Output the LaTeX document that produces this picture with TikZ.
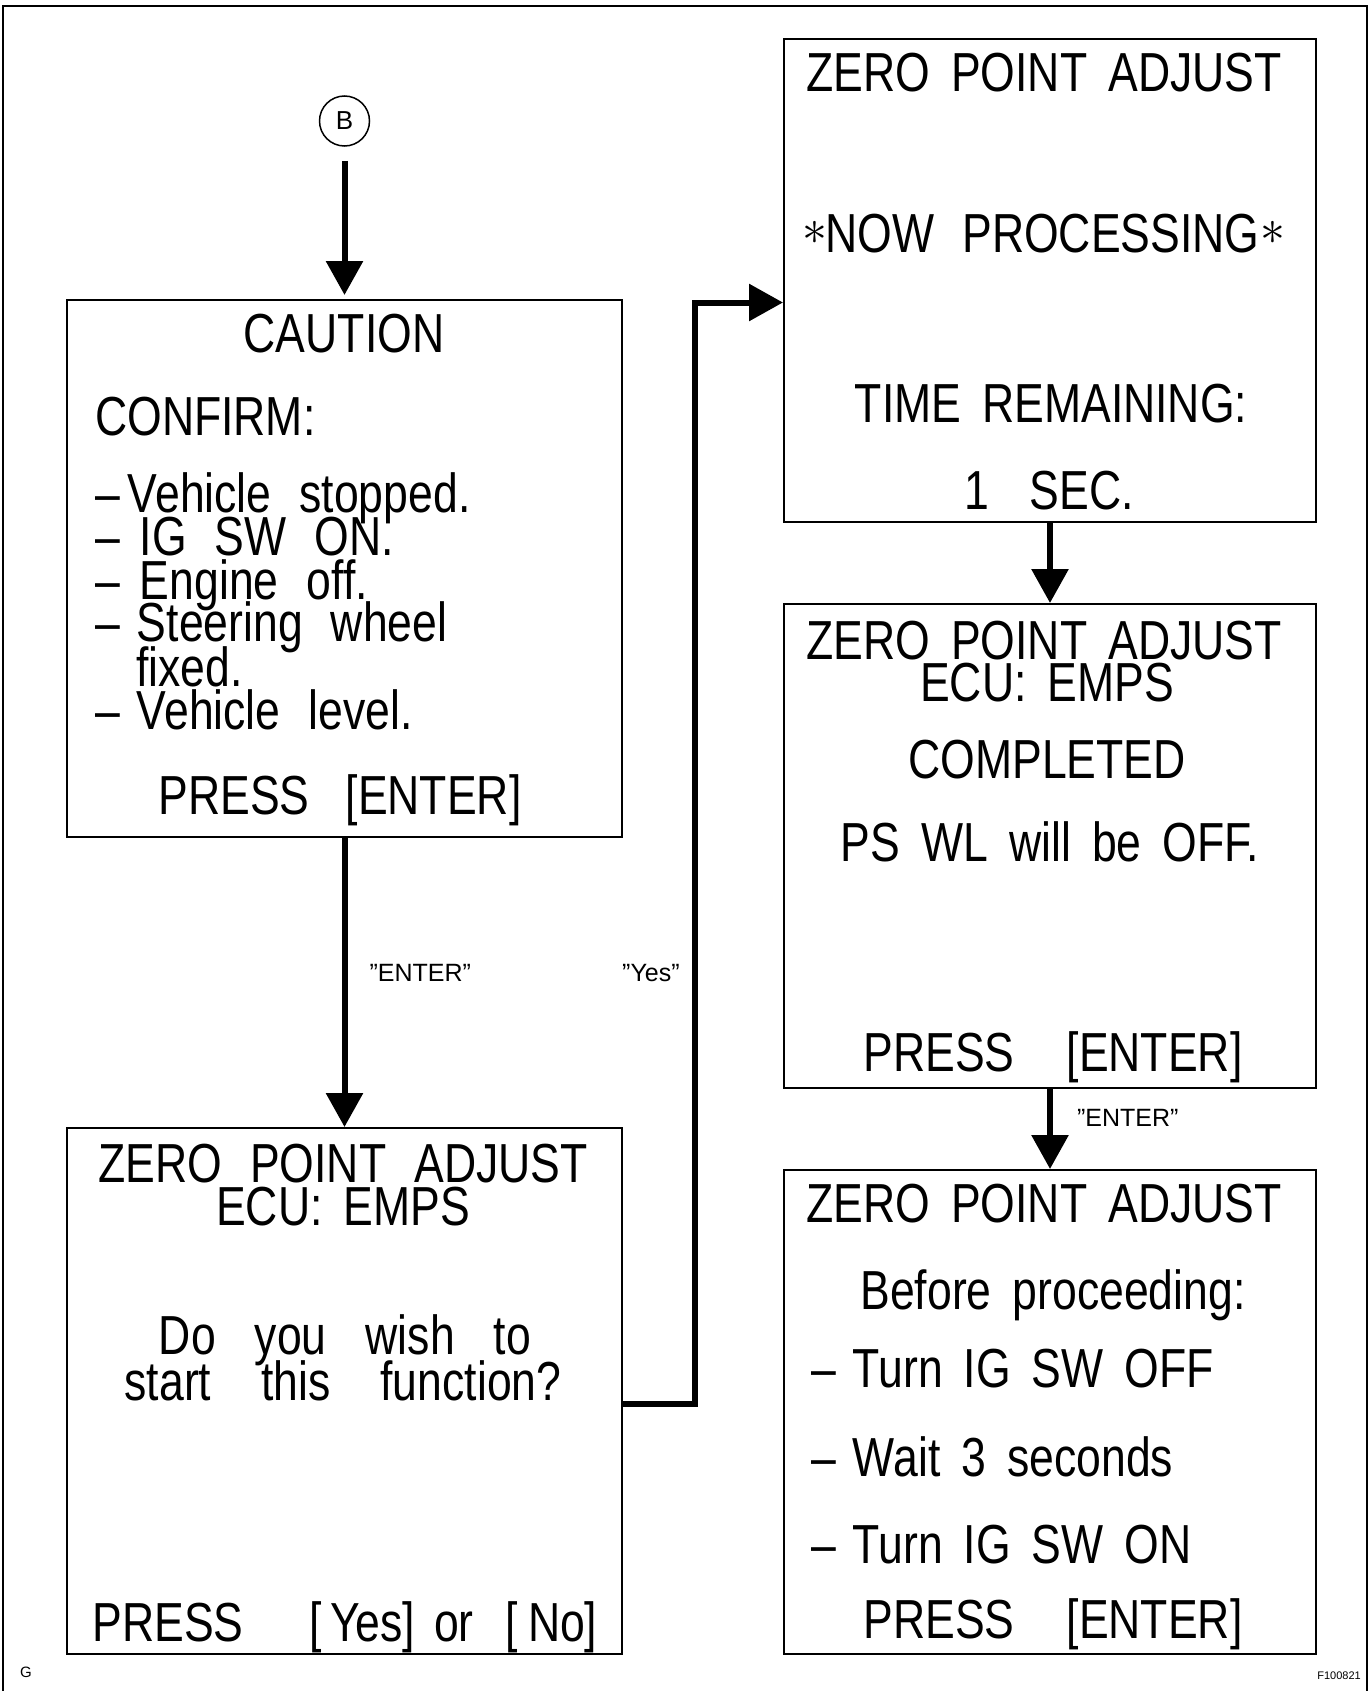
\documentclass[tikz,border=0pt]{standalone}
\usepackage{fontspec}
\setmainfont[FakeStretch=0.81]{Liberation Sans}
\newfontfamily\labelfont{Liberation Sans}
\usetikzlibrary{arrows.meta}
\newcommand{\scrfont}{\fontsize{55}{60}\selectfont\spaceskip=28pt\relax}
\newcommand{\scrzfont}{\fontsize{55}{60}\selectfont\spaceskip=21pt\relax}
\newcommand{\procstar}{\raisebox{8pt}{\scalebox{2}{$\ast$}}}

\begin{document}
\begin{tikzpicture}[x=1pt,y=-1pt,>={Triangle[length=34pt,width=36pt]},line join=miter,
  screen/.style={draw,line width=2pt,inner sep=0pt},
  scr/.style={inner sep=0pt,anchor=base,font=\scrfont},
  scrl/.style={scr,anchor=base west},
  scrz/.style={scr,font=\scrzfont},
  scrzl/.style={scrz,anchor=base west},
  flow/.style={->,line width=6pt},
  lbl/.style={inner sep=0pt,anchor=base west,font=\labelfont\fontsize{25}{25}\selectfont},
]
\useasboundingbox (0,0) rectangle (1370,1691);
%%
\draw [line width=2.5pt] (3,1700) -- (3,6) -- (1367,6) -- (1367,1700);
\node (node_b) at (344.5,121) [circle,draw,line width=1.5pt,minimum size=50pt,inner sep=0pt,font=\labelfont\fontsize{26}{26}\selectfont] {B};
\node (node_caution) at (344.5,568.5) [screen,minimum width=555pt,minimum height=537pt] {};
\node (node_start) at (344.5,1391) [screen,minimum width=555pt,minimum height=526pt] {};
\node (node_proc) at (1050,280.5) [screen,minimum width=532pt,minimum height=483pt] {};
\node (node_done) at (1050,846) [screen,minimum width=532pt,minimum height=484pt] {};
\node (node_off) at (1050,1412) [screen,minimum width=532pt,minimum height=484pt] {};
%
\node (node_c1) at (344,352) [scr] {CAUTION};
\node (node_c2) at (95,435) [scrl] {CONFIRM:};
\node (node_c3) at (95,512) [scrl] {–\hspace{8pt}Vehicle stopped.};
\node (node_c4) at (95,555) [scrl] {–\hspace{20pt}IG SW ON.};
\node (node_c5) at (95,599) [scrl] {–\hspace{20pt}Engine off.};
\node (node_c6) at (95,641) [scrl] {–\hspace{17pt}Steering wheel};
\node (node_c7) at (136,686) [scrl] {fixed.};
\node (node_c8) at (95,729) [scrl] {–\hspace{17pt}Vehicle level.};
\node (node_c9) at (340,814) [scr] {PRESS\hspace{8pt} [ENTER]};
%
\node (node_s1) at (343,1182) [scr] {ZERO POINT ADJUST};
\node (node_s2) at (343,1225) [scrz] {ECU: EMPS};
\node (node_s3) at (345,1354) [scr] {Do\hspace{11pt} you\hspace{11pt} wish\hspace{11pt} to};
\node (node_s4) at (343,1400) [scr] {start\hspace{22pt} this\hspace{22pt} function?};
\node (node_s5) at (345,1641) [scr] {PRESS\hspace{38pt} [\hspace{8pt}Yes]\hspace{-9pt} or\hspace{4pt} [\hspace{10pt}No]};
%
\node (node_p1) at (1044,92) [scrz] {ZERO POINT ADJUST};
\node (node_p2) at (1044,252) [scr] {\procstar\hspace{-2pt}NOW PROCESSING\hspace{-27pt} \procstar};
\node (node_p3) at (1051,422) [scrz] {TIME REMAINING:};
\node (node_p4) at (1049,509) [scr] {1\hspace{13pt} SEC.};
%
\node (node_d1) at (1044,659) [scrz] {ZERO POINT ADJUST};
\node (node_d2) at (1047,701) [scrz] {ECU: EMPS};
\node (node_d3) at (1047,778) [scr] {COMPLETED};
\node (node_d4) at (1050,861) [scrz] {PS WL will be OFF.};
\node (node_d5) at (1053,1071) [scr] {PRESS\hspace{24pt} [ENTER]};
%
\node (node_o1) at (1044,1222) [scrz] {ZERO POINT ADJUST};
\node (node_o2) at (1053,1309) [scrz] {Before proceeding:};
\node (node_o3) at (811,1387) [scrzl] {–\hspace{-4pt} Turn IG SW OFF};
\node (node_o4) at (811,1476) [scrzl] {–\hspace{-4pt} Wait 3 seconds};
\node (node_o5) at (811,1563) [scrzl] {–\hspace{-4pt} Turn IG SW ON};
\node (node_o6) at (1053,1638) [scr] {PRESS\hspace{24pt} [ENTER]};
%
\draw [flow,shorten <=14pt,shorten >=4pt] (node_b) -- (node_caution);
\draw [flow] (node_caution) -- (node_start) node (node_enter1) [lbl,pos=0.5,xshift=22pt,yshift=1pt] {”ENTER”};
\draw [flow] ([yshift=-13pt]node_start.east) -| ([xshift=-88pt,yshift=-22pt]node_proc.west) -- ([yshift=-22pt]node_proc.west);
\node (node_yes) at (622,981) [lbl] {”Yes”};
\draw [flow] (node_proc) -- (node_done);
\draw [flow] (node_done) -- (node_off) node (node_enter2) [lbl,pos=0.5,xshift=24pt,yshift=3pt] {”ENTER”};
\node (node_g) at (20,1677) [lbl,font=\labelfont\fontsize{15}{15}\selectfont] {G};
\node (node_fig) at (1361,1679) [lbl,anchor=base east,font=\labelfont\fontsize{11}{11}\selectfont] {F100821};
%
\end{tikzpicture}
\end{document}
